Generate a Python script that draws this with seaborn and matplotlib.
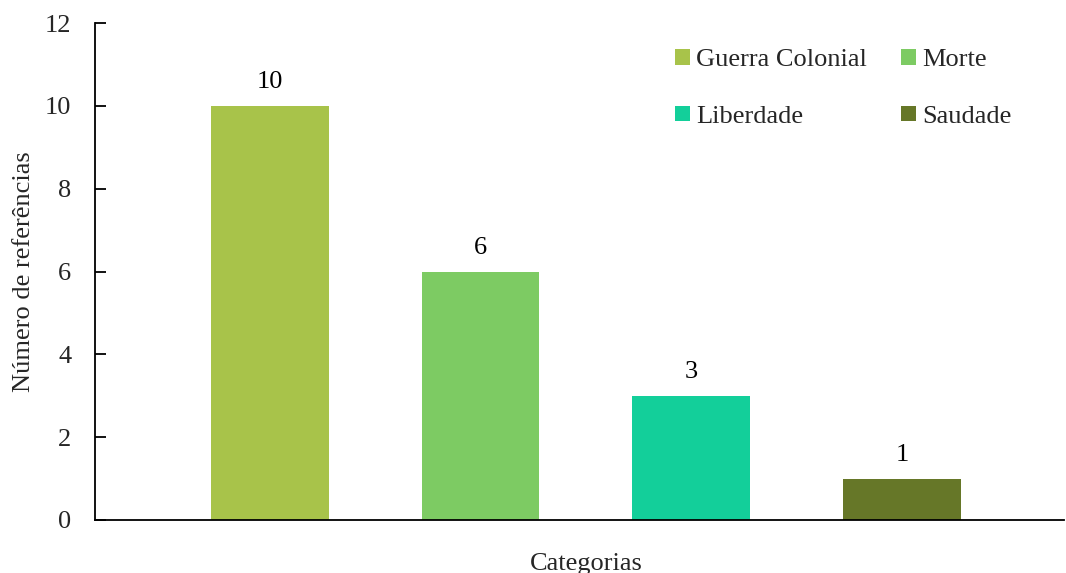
import matplotlib
matplotlib.use("Agg")
import matplotlib.pyplot as plt
from matplotlib.patches import Patch
import seaborn as sns
import pandas as pd

categories = ["Guerra Colonial", "Morte", "Liberdade", "Saudade"]
counts = [10, 6, 3, 1]
colors = ["#A8C34A", "#7DCB63", "#13CF9A", "#667728"]
y_ticks = [0, 2, 4, 6, 8, 10, 12]

sns.set_theme(style="white")
plt.rcParams["font.family"] = ["Liberation Serif", "DejaVu Serif"]
FS = 19

df = pd.DataFrame({"categoria": categories, "referencias": counts})

fig = plt.figure(figsize=(10.66, 5.73), dpi=100)
ax = fig.add_axes([95 / 1066, 53 / 573, (1064 - 95) / 1066, (520 - 23) / 573])

sns.barplot(data=df, x="categoria", y="referencias", hue="categoria",
            palette=colors, order=categories, hue_order=categories,
            width=0.56, dodge=False, legend=False, ax=ax, saturation=1,
            linewidth=0, edgecolor="none")

for patch, val in zip(ax.patches, counts):
    cx = patch.get_x() + patch.get_width() / 2
    ax.annotate(str(val), (cx, val), xytext=(0, 9), textcoords="offset points",
                ha="center", va="bottom", fontsize=FS, color="black")

ax.set_xlim(-0.83, 3.77)
ax.set_ylim(0, 12)
ax.set_yticks(y_ticks)
ax.set_yticklabels([str(t) for t in y_ticks], fontsize=FS)
ax.set_xticks([])
ax.tick_params(axis="y", direction="in", length=8, width=1.3, color="black",
               left=True, pad=17)
ax.set_ylabel("Número de referências", fontsize=FS)
ax.set_xlabel("Categorias", fontsize=FS)
ax.yaxis.set_label_coords(-(95 - 35) / 969, 0.5)
ax.xaxis.set_label_coords((586 - 95) / 969, -(553 - 520) / 497)
ax.xaxis.label.set_va("top")

for side in ["top", "right"]:
    ax.spines[side].set_visible(False)
for side in ["left", "bottom"]:
    ax.spines[side].set_color("black")
    ax.spines[side].set_linewidth(1.3)

# legend laid out row-wise: column 1 = first & third entry, column 2 = second & fourth
order = [0, 2, 1, 3]
handles = [Patch(facecolor=colors[i], edgecolor="none") for i in order]
labels = [categories[i] for i in order]
ax.legend(handles, labels, ncol=2, loc="upper left",
          bbox_to_anchor=(675 / 1066, 1 - 49 / 573), bbox_transform=fig.transFigure,
          frameon=False, fontsize=FS, handlelength=0.55, handleheight=0.55,
          handletextpad=0.25, columnspacing=1.3, labelspacing=1.3,
          borderpad=0, borderaxespad=0)

fig.savefig("out.png", dpi=100)
